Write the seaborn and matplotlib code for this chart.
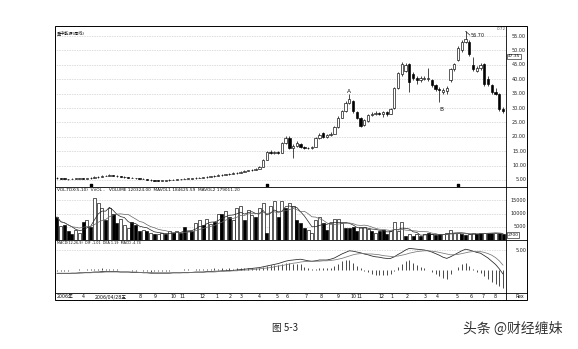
import numpy as np
import pandas as pd
import matplotlib
matplotlib.use("Agg")
import matplotlib.pyplot as plt
from matplotlib.patches import Rectangle
from matplotlib.lines import Line2D
import seaborn as sns

sns.set_style("white")
plt.rcParams['font.family'] = ['DejaVu Sans', 'Noto Sans CJK SC']

# ---------------- data (weekly bars) ----------------
open_ = [5.7, 5.6, 5.5, 5.4, 5.3, 5.4, 5.5, 5.6, 5.5, 5.6,
         5.7, 5.9, 6.0, 6.3, 6.5, 6.6, 6.4, 6.3, 6.1, 5.9,
         5.8, 5.7, 5.6, 5.5, 5.3, 5.1, 4.9, 4.8, 4.7, 4.8,
         4.9, 5.0, 5.1, 5.2, 5.3, 5.4, 5.5, 5.6, 5.7, 5.8,
         5.9, 6.0, 6.2, 6.4, 6.6, 6.7, 6.9, 7.1, 7.3, 7.5,
         7.8, 8.1, 8.3, 8.6, 8.9, 9.5, 12.0, 14.8, 14.4, 14.6,
         14.4, 17.9, 19.7, 16.2, 16.8, 17.6, 16.3, 16.2, 16.1, 16.5,
         19.6, 21.3, 20.0, 20.5, 21.0, 23.5, 26.7, 28.9, 31.9, 32.3,
         28.5, 26.6, 24.0, 25.6, 27.6, 27.9, 28.2, 27.8, 28.5, 28.0,
         30.0, 37.0, 41.7, 43.0, 45.2, 41.7, 40.6, 39.6, 40.0, 40.0,
         39.6, 37.9, 36.6, 35.5, 36.0, 39.6, 43.5, 46.6, 50.0, 53.0,
         53.0, 44.9, 43.0, 43.8, 45.2, 40.0, 38.0, 35.5, 34.7, 29.5]
close = [5.6, 5.5, 5.4, 5.3, 5.4, 5.5, 5.6, 5.5, 5.6, 5.7,
         5.9, 6.0, 6.3, 6.5, 6.6, 6.4, 6.3, 6.1, 5.9, 5.8,
         5.7, 5.6, 5.5, 5.3, 5.1, 4.9, 4.8, 4.7, 4.8, 4.9,
         5.0, 5.1, 5.2, 5.3, 5.4, 5.5, 5.6, 5.7, 5.8, 5.9,
         6.0, 6.2, 6.4, 6.6, 6.7, 6.9, 7.1, 7.3, 7.5, 7.8,
         8.1, 8.3, 8.6, 8.9, 9.4, 12.0, 14.8, 14.4, 14.6, 14.4,
         17.9, 19.7, 16.2, 16.8, 18.0, 16.3, 16.2, 16.1, 16.5, 19.6,
         20.7, 20.0, 20.5, 21.0, 23.5, 26.7, 28.8, 31.9, 33.0, 28.8,
         26.6, 23.9, 25.8, 27.7, 27.9, 28.3, 28.0, 28.5, 27.9, 29.6,
         36.9, 42.0, 45.2, 45.0, 38.9, 40.6, 39.6, 40.3, 40.5, 40.6,
         37.9, 36.7, 36.2, 36.4, 37.0, 43.5, 45.2, 51.0, 53.0, 54.0,
         48.7, 43.5, 44.0, 44.8, 38.2, 38.2, 35.4, 35.0, 29.5, 29.0]
high = [5.9, 5.8, 5.6, 5.5, 5.6, 5.7, 5.8, 5.8, 5.8, 5.9,
        6.2, 6.3, 6.6, 6.8, 6.9, 6.8, 6.6, 6.4, 6.2, 6.0,
        5.9, 5.8, 5.7, 5.6, 5.4, 5.2, 5.0, 4.9, 5.0, 5.1,
        5.2, 5.3, 5.4, 5.5, 5.6, 5.7, 5.8, 5.9, 6.0, 6.1,
        6.3, 6.5, 6.7, 6.9, 7.0, 7.2, 7.4, 7.6, 7.8, 8.1,
        8.4, 8.6, 8.9, 9.2, 9.7, 12.3, 15.2, 15.3, 15.0, 15.0,
        18.3, 20.3, 20.4, 17.6, 18.6, 17.9, 16.8, 16.6, 16.9, 19.9,
        21.2, 21.8, 21.0, 21.5, 23.9, 27.1, 29.4, 32.4, 34.7, 32.8,
        28.9, 27.0, 26.2, 28.0, 28.5, 28.8, 28.6, 29.0, 28.8, 30.0,
        37.3, 42.5, 45.9, 45.6, 45.6, 42.5, 41.2, 41.0, 41.2, 44.0,
        40.2, 38.3, 37.2, 37.0, 37.6, 44.0, 45.8, 51.5, 53.6, 56.7,
        53.5, 47.7, 44.6, 45.8, 45.8, 41.0, 38.5, 36.8, 35.2, 30.5]
low = [5.5, 5.4, 5.3, 5.1, 5.2, 5.3, 5.4, 5.4, 5.4, 5.5,
       5.6, 5.8, 5.9, 6.2, 6.3, 6.2, 6.1, 6.0, 5.8, 5.7,
       5.6, 5.5, 5.4, 5.2, 5.0, 4.8, 4.6, 4.5, 4.6, 4.7,
       4.8, 4.9, 5.0, 5.1, 5.2, 5.3, 5.4, 5.5, 5.6, 5.7,
       5.8, 5.9, 6.1, 6.3, 6.5, 6.6, 6.8, 7.0, 7.2, 7.4,
       7.7, 8.0, 8.2, 8.5, 8.8, 9.4, 11.8, 14.0, 14.1, 14.0,
       14.2, 17.6, 15.8, 12.7, 16.5, 16.0, 15.8, 15.7, 15.8, 16.3,
       19.3, 19.6, 19.7, 20.2, 20.8, 23.2, 26.4, 28.6, 31.5, 28.4,
       26.2, 23.5, 23.8, 25.3, 27.2, 27.6, 27.6, 27.0, 27.3, 27.8,
       29.8, 36.7, 41.2, 42.5, 35.4, 39.8, 38.5, 39.0, 39.6, 39.5,
       37.4, 36.0, 32.0, 34.8, 35.0, 39.0, 43.0, 46.2, 49.6, 52.5,
       48.2, 43.0, 42.5, 43.2, 37.8, 37.6, 35.0, 34.5, 29.0, 28.2]
volume = [8700, 5100, 5700, 3300, 2100, 3900, 2800, 6900, 7500, 5000,
          15800, 14000, 12200, 7500, 12200, 10000, 6400, 8000, 5700, 4500,
          6900, 5700, 3300, 3900, 3300, 2800, 2100, 2100, 2800, 2100,
          3300, 2800, 3300, 2800, 5000, 3300, 3300, 6400, 7500, 5700,
          8000, 6000, 6900, 10000, 10000, 11000, 8700, 7500, 12200, 13000,
          7500, 11300, 9500, 8700, 12200, 14000, 2800, 13000, 14600, 8700,
          14600, 12200, 14000, 13000, 7500, 6400, 4500, 3900, 2800, 7500,
          8700, 6400, 3900, 6400, 8000, 8000, 6400, 4500, 4500, 5000,
          3300, 5000, 5000, 4000, 3300, 2800, 3300, 3900, 2100, 3300,
          6900, 3300, 6900, 1600, 2100, 1600, 2100, 1600, 2100, 2500,
          2100, 1800, 2100, 2100, 2500, 3700, 2800, 2500, 2100, 1800,
          2100, 2500, 2100, 2800, 2800, 2500, 2800, 2500, 2500, 2100]
vol_up = [0, 1, 0, 0, 0, 1, 1, 0, 1, 0,
          1, 1, 1, 0, 1, 0, 0, 1, 1, 1,
          0, 0, 0, 1, 0, 1, 0, 1, 1, 0,
          1, 0, 1, 0, 0, 1, 0, 1, 1, 0,
          1, 1, 0, 1, 0, 1, 0, 1, 1, 1,
          0, 1, 1, 0, 1, 1, 0, 1, 1, 0,
          1, 0, 1, 1, 0, 0, 0, 1, 1, 1,
          1, 0, 0, 1, 1, 1, 1, 0, 0, 0,
          0, 1, 1, 1, 0, 1, 0, 0, 0, 1,
          1, 1, 1, 0, 1, 0, 1, 0, 1, 0,
          1, 0, 0, 1, 1, 1, 1, 1, 0, 0,
          1, 1, 0, 0, 1, 0, 0, 1, 0, 0]
dif = [-0.9, -0.9, -0.9, -0.9, -0.8, -0.8, -0.7, -0.7, -0.6, -0.6,
       -0.5, -0.5, -0.4, -0.4, -0.4, -0.4, -0.4, -0.5, -0.5, -0.5,
       -0.6, -0.6, -0.6, -0.7, -0.7, -0.8, -0.8, -0.8, -0.8, -0.8,
       -0.8, -0.7, -0.7, -0.7, -0.6, -0.6, -0.6, -0.5, -0.5, -0.5,
       -0.4, -0.4, -0.3, -0.3, -0.2, -0.2, -0.1, -0.1, 0.0, 0.1,
       0.2, 0.3, 0.4, 0.5, 0.6, 0.8, 1.0, 1.2, 1.4, 1.6,
       1.9, 2.2, 2.4, 2.5, 2.6, 2.7, 2.5, 2.3, 2.2, 2.3,
       2.5, 2.5, 2.5, 2.7, 3.0, 3.5, 4.0, 4.4, 4.8, 4.7,
       4.5, 4.3, 4.0, 3.8, 3.5, 3.3, 3.2, 3.0, 2.9, 2.9,
       3.3, 3.9, 4.4, 5.0, 5.4, 5.3, 5.2, 5.1, 5.0, 4.8,
       4.5, 4.1, 3.7, 3.2, 2.9, 3.3, 3.8, 4.3, 4.8, 5.2,
       5.0, 4.7, 4.4, 4.2, 3.6, 3.0, 2.2, 1.4, 0.3, -1.0]
dea = [-0.8, -0.8, -0.8, -0.8, -0.8, -0.8, -0.8, -0.7, -0.7, -0.7,
       -0.6, -0.6, -0.6, -0.5, -0.5, -0.5, -0.5, -0.5, -0.5, -0.5,
       -0.5, -0.5, -0.6, -0.6, -0.6, -0.6, -0.7, -0.7, -0.7, -0.7,
       -0.7, -0.7, -0.7, -0.7, -0.7, -0.7, -0.6, -0.6, -0.6, -0.6,
       -0.5, -0.5, -0.5, -0.4, -0.4, -0.3, -0.3, -0.2, -0.2, -0.1,
       0.0, 0.0, 0.1, 0.2, 0.3, 0.4, 0.5, 0.6, 0.8, 1.0,
       1.1, 1.3, 1.5, 1.7, 1.8, 2.0, 2.1, 2.1, 2.1, 2.2,
       2.2, 2.3, 2.3, 2.4, 2.5, 2.7, 2.9, 3.2, 3.5, 3.8,
       4.0, 4.1, 4.1, 4.0, 4.0, 3.9, 3.8, 3.6, 3.5, 3.4,
       3.4, 3.5, 3.7, 3.9, 4.2, 4.4, 4.6, 4.7, 4.8, 4.8,
       4.7, 4.6, 4.4, 4.2, 4.0, 3.8, 3.8, 3.9, 4.1, 4.3,
       4.5, 4.6, 4.6, 4.6, 4.4, 4.1, 3.7, 3.1, 2.3, 1.2]

price_ticks = [5, 10, 15, 20, 25, 30, 35, 40, 45, 50, 55]
vol_ticks = [5000, 10000, 15000]
macd_ticks = [5]
event_weeks = [9, 56, 107]

date_labels = ["2006年", "4", "2006/04/28五", "8", "9", "10", "11", "12",
               "1", "2", "3", "4", "5", "6", "7", "8", "9", "10", "11", "12",
               "1", "2", "3", "4", "5", "6", "7", "8"]
date_weeks = [0, 6.9, 14.4, 22.1, 26.1, 31, 33.6, 38.7,
              42.7, 46.2, 49.1, 53.9, 58.7, 61.4, 66.4, 70.4, 75, 79, 80.6, 86.7,
              89.4, 93.4, 98.2, 101.4, 106.7, 110.5, 113.7, 116.9]

# ---------------- derived ----------------
o = np.array(open_); c = np.array(close); h = np.array(high); l = np.array(low)
v = np.array(volume); vu = np.array(vol_up, dtype=bool)
N = len(c)
x = np.arange(N)
df = pd.DataFrame({"week": x, "close": c, "vol": v, "dif": dif, "dea": dea})
df["ma5"] = df["vol"].rolling(5, min_periods=1).mean()
df["ma10"] = df["vol"].rolling(10, min_periods=1).mean()
df["hist"] = 2 * (df["dif"] - df["dea"])

# ---------------- layout ----------------
W, H = 578, 349
fig = plt.figure(figsize=(W / 100, H / 100), dpi=100)
fig.patch.set_facecolor("white")

def ax_at(x0, y0, x1, y1):
    return fig.add_axes([x0 / W, 1 - y1 / H, (x1 - x0) / W, (y1 - y0) / H])

L, R, RC = 55, 506, 527
TOP, PB, VB, MB, DB = 26, 187, 240, 293, 300
ax_p = ax_at(L, TOP, R, PB)
ax_v = ax_at(L, PB, R, VB)
ax_m = ax_at(L, VB, R, MB)
ax_d = ax_at(L, MB, R, DB)

XL = (-0.53, N - 0.2)
for a in (ax_p, ax_v, ax_m, ax_d):
    a.set_xlim(*XL)
    a.set_xticks([])
    a.set_yticks([])
    a.set_facecolor("white")
    for s in a.spines.values():
        s.set_visible(False)

grid_kw = dict(color="#9a9a9a", lw=0.4, ls=(0, (1, 2)), zorder=0)
lab_kw = dict(fontsize=3.5, ha="right", va="center", color="#222", clip_on=False)
xr = (RC - 1 - L) / (R - L)

# ---- price panel ----
ax_p.set_ylim(2.55, 58.5)
for p in price_ticks:
    ax_p.axhline(p, **grid_kw)
    ax_p.text(xr, p, f"{p:.2f}", transform=ax_p.get_yaxis_transform(), **lab_kw)
up = c >= o
blo = np.minimum(o, c)
bh = np.maximum(np.abs(c - o), 0.15)
ax_p.vlines(x, l, h, color="black", lw=0.5, zorder=2)
ax_p.bar(x[up], bh[up], bottom=blo[up], width=0.62, facecolor="white",
         edgecolor="black", lw=0.45, zorder=3)
ax_p.bar(x[~up], bh[~up], bottom=blo[~up], width=0.62, facecolor="black",
         edgecolor="black", lw=0.45, zorder=3)
ax_p.scatter(event_weeks, [3.3] * len(event_weeks), marker="s", s=1.2,
             color="black", zorder=4)
ax_p.text(0.004, 0.975, "重中能源(周线)", transform=ax_p.transAxes, fontsize=3,
          ha="left", va="top", color="#111")
ax_p.text(78, 34.9, "A", fontsize=4.2, ha="center", va="bottom", color="#111")
ax_p.text(102.5, 29.5, "B", fontsize=4.2, ha="center", va="center", color="#111")
ax_p.plot([109, 110.2], [56.7, 55.3], color="black", lw=0.4)
ax_p.text(110.4, 55.2, "56.70", fontsize=3.5, ha="left", va="center", color="#111")
ax_p.text(117.2, 57.4, "0.72", fontsize=3, ha="left", va="center", color="#555")
ax_p.text(1.003, 48.0, "47.35", transform=ax_p.get_yaxis_transform(), fontsize=3.2,
          ha="left", va="center", color="#111", clip_on=False,
          bbox=dict(boxstyle="square,pad=0.15", fc="white", ec="black", lw=0.4))

# ---- volume panel ----
ax_v.set_ylim(0, 20000)
for t in vol_ticks:
    ax_v.axhline(t, **grid_kw)
    ax_v.text(xr, t, f"{t}", transform=ax_v.get_yaxis_transform(), **lab_kw)
ax_v.bar(x[vu], v[vu], width=0.8, facecolor="white", edgecolor="black", lw=0.45, zorder=2)
ax_v.bar(x[~vu], v[~vu], width=0.8, facecolor="black", edgecolor="black", lw=0.45, zorder=2)
sns.lineplot(data=df, x="week", y="ma5", ax=ax_v, color="#222222", lw=0.5, zorder=4)
sns.lineplot(data=df, x="week", y="ma10", ax=ax_v, color="#666666", lw=0.5, zorder=4)
ax_v.text(0.004, 0.985, "VOL-TDX(5,10)  VVOL -   VOLUME 120324.00  MAVOL1 184625.59  MAVOL2 179011.20",
          transform=ax_v.transAxes, fontsize=3.1, ha="left", va="top", color="#111")
ax_v.text(1.003, 1900, "2700", transform=ax_v.get_yaxis_transform(), fontsize=3.2,
          ha="left", va="center", color="#111", clip_on=False,
          bbox=dict(boxstyle="square,pad=0.15", fc="white", ec="black", lw=0.4))

# ---- MACD panel ----
ax_m.set_ylim(-5.75, 7.5)
for t in macd_ticks:
    ax_m.axhline(t, **grid_kw)
    ax_m.text(xr, t, f"{t:.2f}", transform=ax_m.get_yaxis_transform(), **lab_kw)
ax_m.vlines(x, 0, df["hist"], color="black", lw=0.5, zorder=2)
sns.lineplot(data=df, x="week", y="dif", ax=ax_m, color="#222222", lw=0.55, zorder=3)
sns.lineplot(data=df, x="week", y="dea", ax=ax_m, color="#777777", lw=0.55, zorder=3)
ax_m.text(0.004, 0.975, "MACD(12,26,9)  DIF -1.01  DEA 1.19  MACD -4.74",
          transform=ax_m.transAxes, fontsize=2.4, ha="left", va="top", color="#111")

for a in (ax_v, ax_m):
    a.set_xlabel("")
    a.set_ylabel("")
    a.set_xticks([])
    a.set_yticks([])

# ---- date row ----
ax_d.set_ylim(0, 1)
for i, (wk, lab) in enumerate(zip(date_weeks, date_labels)):
    ax_d.text(wk, 0.45, lab, fontsize=3.4, ha="left" if i == 0 else "center",
              va="center", color="#111")
fig.text((RC - 3) / W, 1 - 296.5 / H, "Rex", fontsize=3.4, ha="right", va="center", color="#111")

# ---- frame lines ----
fig.add_artist(Rectangle((L / W, 1 - DB / H), (RC - L) / W, (DB - TOP) / H,
                         transform=fig.transFigure, fill=False, lw=0.7, ec="black"))
fig.add_artist(Line2D([R / W, R / W], [1 - TOP / H, 1 - DB / H],
                      transform=fig.transFigure, lw=0.6, color="black"))
for yy in (PB, VB, MB):
    fig.add_artist(Line2D([L / W, RC / W], [1 - yy / H, 1 - yy / H],
                          transform=fig.transFigure, lw=0.6, color="black"))

# ---- caption & watermark ----
fig.text(285 / W, 1 - 328 / H, "图 5-3", fontsize=7, ha="center", va="center",
         color="#222", family=["Noto Sans CJK SC", "DejaVu Sans"])
fig.text(463 / W, 1 - 329 / H, "头条 @财经缠妹", fontsize=10, ha="left", va="center",
         color="#333", family=["Noto Sans CJK SC", "DejaVu Sans"])

fig.savefig("out.png", dpi=100, facecolor="white")
